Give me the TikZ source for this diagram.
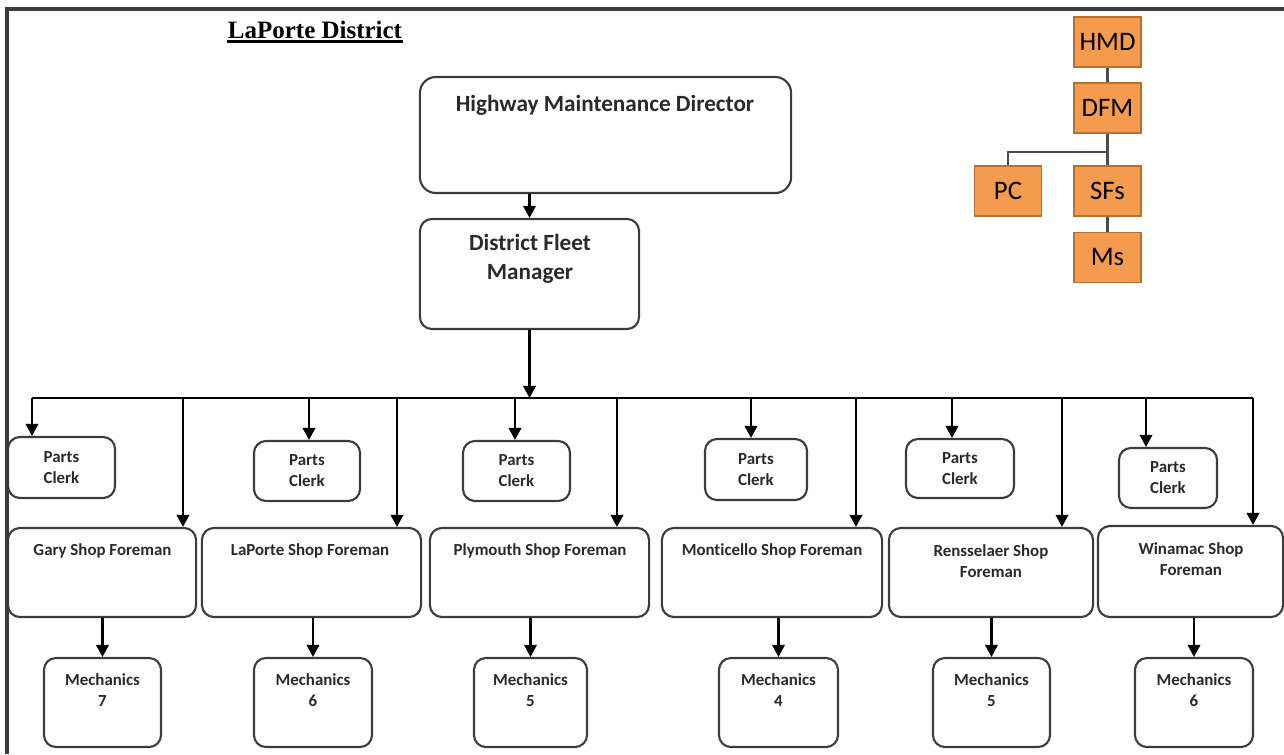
\documentclass[tikz,border=0pt]{standalone}
\usepackage{fontspec}
\setmainfont{Carlito}[Ligatures=NoCommon]
\newfontfamily\titlefont{Liberation Serif}
\usetikzlibrary{arrows.meta}
\definecolor{edgegray}{HTML}{3C3C3C}
\definecolor{txtgray}{HTML}{2A2A2A}
\definecolor{orgfill}{HTML}{F59B4E}
\definecolor{orgedge}{HTML}{B9702F}
\tikzset{
  rbox/.style={draw=edgegray, line width=0.6pt, rounded corners=0.12cm, fill=white, inner sep=0pt},
  bigbox/.style={rbox, rounded corners=0.16cm},
  smalltxt/.style={font=\fontsize{4.8}{6}\selectfont\bfseries, align=center, inner sep=0pt, text=txtgray},
  bigtxt/.style={font=\fontsize{6.6}{8.2}\selectfont\bfseries, align=center, inner sep=0pt, text=txtgray},
  obox/.style={draw=orgedge, fill=orgfill, line width=0.5pt, minimum width=0.67cm, minimum height=0.5cm, inner sep=0pt, font=\fontsize{7.6}{9}\selectfont, text=black},
  arr/.style={draw=black, line width=0.6pt, -{Triangle[length=1.2mm,width=1.25mm]}},
  tie/.style={draw=gray!60!black, line width=0.6pt}
}
\begin{document}
\begin{tikzpicture}[x=0.01cm, y=-0.01cm]
\useasboundingbox (0,0) rectangle (1284,754);
\fill[white] (0,0) rectangle (1284,754);

% page frame (top and left rules)
\draw[edgegray, line width=0.9pt] (7,754) -- (7,9) -- (1284,9);

% heading
\node[inner sep=0pt, font=\titlefont\fontsize{7.1}{8}\selectfont\bfseries] (title) at (315,30) {LaPorte District};
\draw[line width=0.8pt] ([yshift=-0.6pt]title.south west) -- ([yshift=-0.6pt]title.south east);

% top of the hierarchy
\node[bigbox, minimum width=3.71cm, minimum height=1.16cm] (hmd) at (605.5,135) {};
\node[bigtxt] (hmdtxt) at (605,105) {Highway Maintenance Director};
\node[rbox, minimum width=2.19cm, minimum height=1.10cm] (dfm) at (529.5,274) {};
\node[bigtxt] (dfmtxt) at (530,258.5) {District Fleet\\Manager};
\draw[arr] (dfm.north |- hmd.south) -- (dfm.north);

% distribution bus
\coordinate (busL) at (32,398);
\coordinate (busR) at (1253,398);
\draw[line width=0.6pt] (busL) -- (busR);
\draw[arr] (dfm.south) -- (dfm.south |- busL);

% parts clerks
\node[rbox, minimum width=1.07cm, minimum height=0.61cm, smalltxt] (pc1) at (61.5,467.5) {Parts\\Clerk};
\node[rbox, minimum width=1.06cm, minimum height=0.60cm, smalltxt] (pc2) at (307,471) {Parts\\Clerk};
\node[rbox, minimum width=1.07cm, minimum height=0.60cm, smalltxt] (pc3) at (516.5,471) {Parts\\Clerk};
\node[rbox, minimum width=1.02cm, minimum height=0.61cm, smalltxt] (pc4) at (756,469.5) {Parts\\Clerk};
\node[rbox, minimum width=1.08cm, minimum height=0.59cm, smalltxt] (pc5) at (960,468.5) {Parts\\Clerk};
\node[rbox, minimum width=0.98cm, minimum height=0.60cm, smalltxt] (pc6) at (1168,478) {Parts\\Clerk};

% shop foremen
\node[rbox, minimum width=1.88cm, minimum height=0.89cm] (sf1) at (102,572.5) {};
\node[rbox, minimum width=2.19cm, minimum height=0.89cm] (sf2) at (311.5,572.5) {};
\node[rbox, minimum width=2.19cm, minimum height=0.89cm] (sf3) at (539.5,572.5) {};
\node[rbox, minimum width=2.20cm, minimum height=0.89cm] (sf4) at (772,572.5) {};
\node[rbox, minimum width=2.04cm, minimum height=0.89cm] (sf5) at (991,572.5) {};
\node[rbox, minimum width=1.85cm, minimum height=0.91cm] (sf6) at (1190.5,571.5) {};
\node[smalltxt] (sf1txt) at (102.5,551) {Gary Shop Foreman};
\node[smalltxt] (sf2txt) at (310,551) {LaPorte Shop Foreman};
\node[smalltxt] (sf3txt) at (540,551) {Plymouth Shop Foreman};
\node[smalltxt] (sf4txt) at (772,551) {Monticello Shop Foreman};
\node[smalltxt] (sf5txt) at (991,561) {Rensselaer Shop\\Foreman};
\node[smalltxt] (sf6txt) at (1191,559.5) {Winamac Shop\\Foreman};

% mechanics
\node[rbox, minimum width=1.17cm, minimum height=0.89cm] (m1) at (102.5,702.5) {};
\node[rbox, minimum width=1.18cm, minimum height=0.89cm] (m2) at (313,702.5) {};
\node[rbox, minimum width=1.13cm, minimum height=0.89cm] (m3) at (530.5,702.5) {};
\node[rbox, minimum width=1.19cm, minimum height=0.89cm] (m4) at (778.5,702.5) {};
\node[rbox, minimum width=1.17cm, minimum height=0.89cm] (m5) at (991.5,702.5) {};
\node[rbox, minimum width=1.18cm, minimum height=0.89cm] (m6) at (1194,702.5) {};
\node[smalltxt] (m1txt) at (102.5,690) {Mechanics\\7};
\node[smalltxt] (m2txt) at (313,690) {Mechanics\\6};
\node[smalltxt] (m3txt) at (530.5,690) {Mechanics\\5};
\node[smalltxt] (m4txt) at (778.5,690) {Mechanics\\4};
\node[smalltxt] (m5txt) at (991.5,690) {Mechanics\\5};
\node[smalltxt] (m6txt) at (1194,690) {Mechanics\\6};

% drops from the bus to the parts clerks
\foreach \px/\n in {32/1, 309/2, 515/3, 751/4, 952/5, 1146/6} {
  \coordinate (pd\n) at (\px,398);
  \draw[arr] (pd\n) -- (pd\n |- pc\n.north);
}
% drops from the bus to the shop foremen
\foreach \px/\n in {183/1, 397/2, 617/3, 856/4, 1062/5, 1253/6} {
  \coordinate (sd\n) at (\px,398);
  \draw[arr] (sd\n) -- (sd\n |- sf\n.north);
}
% foremen to mechanics
\foreach \n in {1,...,6} {
  \draw[arr] (m\n.north |- sf\n.south) -- (m\n.north);
}

% key chart
\node[obox] (kHMD) at (1107.5,42) {HMD};
\node[obox] (kDFM) at (1107.5,108) {DFM};
\node[obox] (kPC) at (1008,191) {PC};
\node[obox] (kSF) at (1107.5,191) {SFs};
\node[obox] (kMs) at (1107.5,257.5) {Ms};
\coordinate (ksplit) at (1107.5,152);
\draw[tie] (kHMD) -- (kDFM);
\draw[tie] (kDFM) -- (kSF);
\draw[tie] (ksplit) -| (kPC.north);
\draw[tie] (kSF) -- (kMs);
\end{tikzpicture}
\end{document}
